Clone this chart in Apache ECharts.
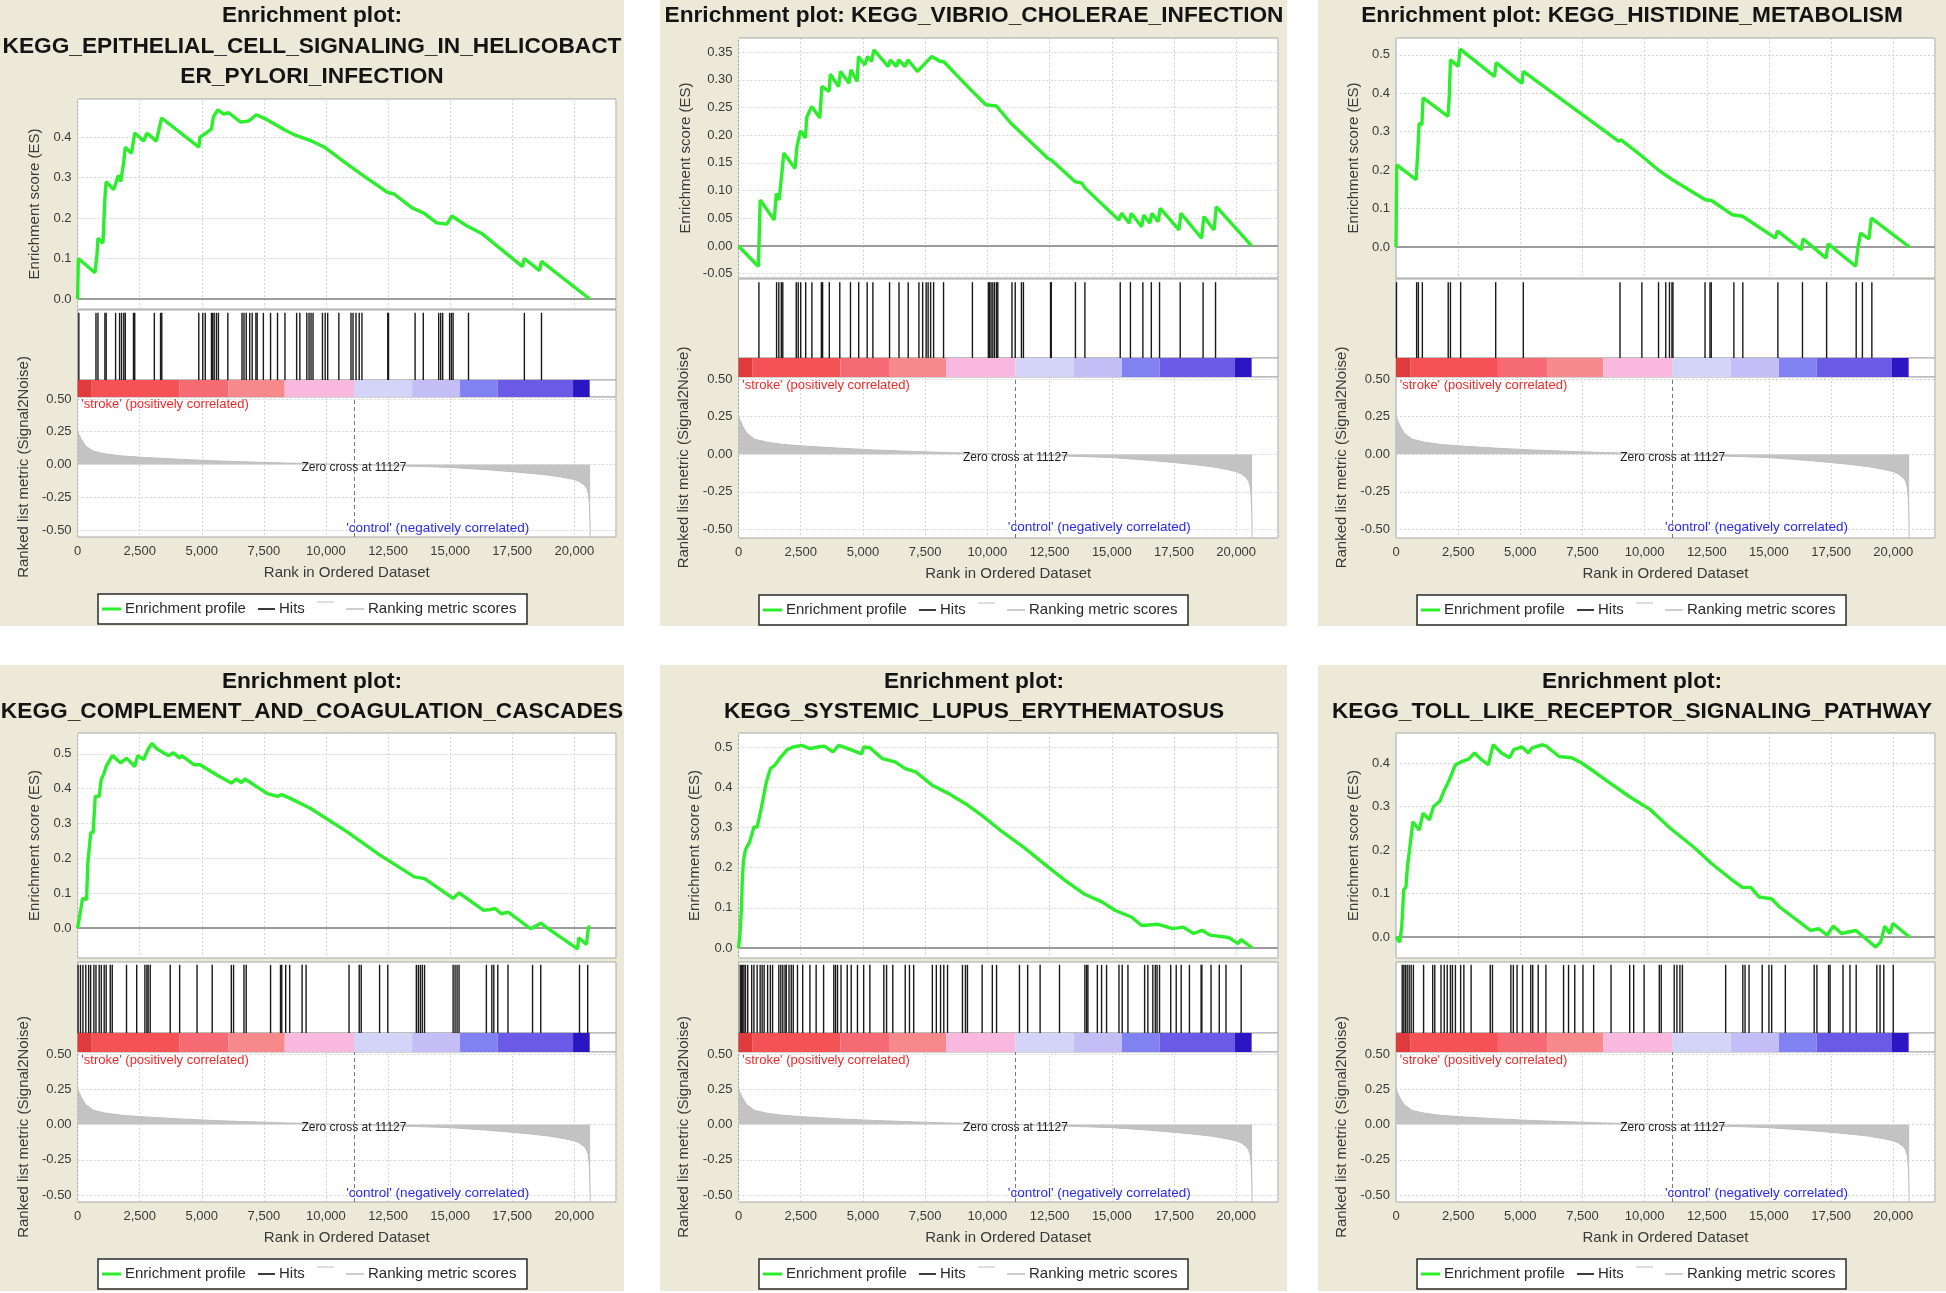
<!DOCTYPE html>
<html><head><meta charset="utf-8">
<script src="https://cdn.jsdelivr.net/npm/echarts@6/dist/echarts.min.js"></script>
<style>html,body{margin:0;padding:0;background:#fff}#c{width:1946px;height:1293px}</style>
</head><body><div id="c"></div>
<script>
// ---------------- DATA ----------------
const titles1 = ["Enrichment plot:", "KEGG_EPITHELIAL_CELL_SIGNALING_IN_HELICOBACT", "ER_PYLORI_INFECTION"];
const titles2 = ["Enrichment plot: KEGG_VIBRIO_CHOLERAE_INFECTION"];
const titles3 = ["Enrichment plot: KEGG_HISTIDINE_METABOLISM"];
const titles4 = ["Enrichment plot:", "KEGG_COMPLEMENT_AND_COAGULATION_CASCADES"];
const titles5 = ["Enrichment plot:", "KEGG_SYSTEMIC_LUPUS_ERYTHEMATOSUS"];
const titles6 = ["Enrichment plot:", "KEGG_TOLL_LIKE_RECEPTOR_SIGNALING_PATHWAY"];

const xTicks = [0, 2500, 5000, 7500, 10000, 12500, 15000, 17500, 20000];
const XMAX = 21680;
const ZERO_CROSS = 11127;
const metricTicks = [0.5, 0.25, 0, -0.25, -0.5];

const esTicks1 = [0, 0.1, 0.2, 0.3, 0.4];
const esTicks2 = [-0.05, 0, 0.05, 0.10, 0.15, 0.20, 0.25, 0.30, 0.35];
const esTicks3 = [0, 0.1, 0.2, 0.3, 0.4, 0.5];
const esTicks4 = [0, 0.1, 0.2, 0.3, 0.4, 0.5];
const esTicks5 = [0, 0.1, 0.2, 0.3, 0.4, 0.5];
const esTicks6 = [0, 0.1, 0.2, 0.3, 0.4];

const es1 = [[0,0],[30,0.1],[700,0.065],[780,0.11],[820,0.15],[1020,0.138],[1100,0.25],[1150,0.29],[1450,0.27],[1640,0.305],[1740,0.29],[1860,0.34],[1920,0.375],[2170,0.36],[2300,0.41],[2660,0.39],[2790,0.41],[3170,0.39],[3380,0.447],[4880,0.375],[4930,0.4],[5180,0.41],[5390,0.42],[5470,0.45],[5640,0.467],[5880,0.457],[6080,0.46],[6570,0.437],[6900,0.44],[7200,0.455],[7560,0.445],[8380,0.416],[8790,0.404],[9360,0.392],[9940,0.375],[10840,0.334],[11660,0.298],[12490,0.263],[12730,0.26],[13470,0.225],[13970,0.211],[14460,0.188],[14870,0.185],[15070,0.205],[15610,0.183],[16270,0.162],[17910,0.08],[17990,0.1],[18600,0.07],[18680,0.093],[20620,0]];
const es2 = [[0,0],[800,-0.037],[835,0.023],[870,0.083],[1435,0.047],[1520,0.095],[1630,0.083],[1735,0.128],[1820,0.168],[2270,0.14],[2350,0.18],[2490,0.208],[2690,0.195],[2740,0.232],[2940,0.252],[3270,0.231],[3350,0.288],[3640,0.279],[3690,0.31],[4020,0.288],[4100,0.315],[4440,0.294],[4520,0.318],[4770,0.297],[4820,0.342],[5070,0.327],[5190,0.342],[5350,0.333],[5440,0.354],[6020,0.324],[6100,0.336],[6350,0.324],[6440,0.336],[6690,0.324],[6810,0.336],[7190,0.315],[7440,0.327],[7770,0.342],[8110,0.333],[8240,0.333],[9270,0.285],[9940,0.255],[10360,0.253],[10940,0.222],[12440,0.158],[12580,0.155],[13530,0.116],[13780,0.114],[13940,0.104],[15280,0.047],[15400,0.059],[15700,0.041],[15780,0.059],[16200,0.035],[16280,0.056],[16530,0.041],[16610,0.059],[16860,0.044],[16950,0.068],[17700,0.029],[17780,0.059],[18610,0.014],[18700,0.053],[19110,0.029],[19200,0.071],[20620,0]];
const es3 = [[0,0],[30,0.214],[810,0.175],[880,0.253],[930,0.322],[1040,0.318],[1090,0.388],[2090,0.34],[2140,0.388],[2190,0.487],[2500,0.47],[2580,0.515],[3960,0.444],[4030,0.48],[5070,0.426],[5120,0.457],[8960,0.275],[9050,0.279],[9880,0.237],[10540,0.201],[11120,0.175],[12440,0.123],[12690,0.121],[13520,0.084],[13940,0.08],[15260,0.023],[15340,0.042],[16300,-0.007],[16370,0.021],[17300,-0.029],[17380,0.008],[18490,-0.05],[18580,-0.003],[18690,0.036],[19020,0.021],[19120,0.075],[20650,0]];
const es4 = [[0,0],[100,0.041],[200,0.085],[360,0.082],[410,0.186],[530,0.274],[625,0.274],[710,0.378],[870,0.378],[950,0.426],[1070,0.445],[1150,0.464],[1230,0.474],[1400,0.495],[1730,0.474],[1970,0.488],[2300,0.464],[2420,0.495],[2660,0.484],[2830,0.512],[2990,0.53],[3200,0.514],[3650,0.495],[3860,0.503],[4110,0.488],[4190,0.495],[4680,0.469],[4930,0.469],[5590,0.44],[6210,0.416],[6380,0.428],[6600,0.418],[6740,0.428],[7640,0.386],[8050,0.378],[8220,0.383],[8540,0.373],[9370,0.344],[10840,0.277],[12160,0.21],[13560,0.147],[13970,0.142],[15120,0.085],[15360,0.101],[16350,0.051],[16600,0.053],[16810,0.056],[17060,0.041],[17340,0.046],[18240,-0.002],[18650,0.014],[18890,0.001],[20130,-0.06],[20180,-0.028],[20490,-0.047],[20570,0.003],[20650,0.003]];
const es5 = [[0,0],[60,0.036],[120,0.102],[150,0.168],[200,0.218],[280,0.245],[450,0.264],[620,0.301],[750,0.301],[870,0.334],[1030,0.384],[1120,0.413],[1280,0.446],[1450,0.454],[1700,0.475],[1950,0.493],[2200,0.5],[2540,0.504],[2870,0.496],[3200,0.5],[3450,0.502],[3790,0.488],[4030,0.504],[4530,0.493],[4950,0.483],[5030,0.5],[5280,0.498],[5780,0.471],[6290,0.463],[6700,0.446],[7120,0.438],[7780,0.405],[8450,0.384],[9120,0.359],[9780,0.33],[10620,0.288],[11450,0.251],[12450,0.201],[13120,0.168],[13870,0.135],[14620,0.114],[15120,0.094],[15790,0.077],[16200,0.056],[16870,0.059],[17450,0.048],[17870,0.052],[18290,0.036],[18620,0.044],[18950,0.032],[19700,0.026],[20080,0.011],[20200,0.021],[20650,0]];
const es6 = [[0,0],[150,-0.012],[230,0.023],[310,0.108],[400,0.115],[460,0.162],[560,0.208],[680,0.265],[930,0.246],[1090,0.285],[1340,0.269],[1510,0.3],[1760,0.312],[1920,0.335],[2120,0.358],[2390,0.396],[2670,0.404],[2920,0.409],[3160,0.423],[3410,0.409],[3710,0.396],[3910,0.442],[4240,0.423],[4570,0.412],[4740,0.431],[5070,0.437],[5320,0.423],[5480,0.435],[5900,0.442],[6060,0.438],[6560,0.415],[7060,0.412],[7470,0.4],[8050,0.377],[8710,0.35],[9380,0.323],[10200,0.294],[11030,0.25],[12030,0.204],[12690,0.169],[13520,0.131],[13930,0.114],[14270,0.114],[14600,0.092],[15100,0.088],[15430,0.069],[16670,0.015],[17010,0.019],[17340,0.004],[17590,0.025],[17920,0.008],[18250,0.012],[18500,0.015],[19290,-0.023],[19490,-0.012],[19660,0.025],[19860,0.008],[19990,0.031],[20650,0]];

const hits1 = [50,740,820,1100,1150,1530,1690,1770,1860,1920,2250,2300,3090,3340,3390,4880,5040,5140,5390,5440,5500,5590,5670,6050,6620,6700,6790,6930,7030,7180,7230,7480,7770,8050,8350,8820,8950,9230,9320,9400,9480,9860,9970,10070,10520,11010,11090,11210,11340,11450,12490,12520,13590,13920,14540,14620,14700,14980,15050,15120,15740,17990,18680];
const hits2 = [820,1530,1620,1720,1780,2320,2400,2500,2700,2950,3330,3380,3650,4070,4500,4830,5170,5400,6070,6450,6820,7250,7400,7540,7620,7720,7840,8240,9400,10040,10090,10150,10220,10290,10370,10420,10990,11120,11370,11450,12540,12570,13540,13920,15340,15750,16250,16590,16920,17750,18670,19170];
const hits3 = [20,830,900,1060,2100,2190,2600,4010,5120,9010,9890,10560,10850,11000,11100,11140,12430,12630,12680,13590,13950,15360,16350,17320,18510,18760,19140];
const hits4 = [20,115,215,330,445,525,655,740,870,955,1070,1150,1315,1395,1970,2380,2710,2790,2840,2925,3730,4110,4810,5420,6190,6280,6700,6790,7770,8170,8220,8380,8540,9040,9200,10930,11340,11420,12160,12490,13640,13720,13800,13880,13970,15120,15200,15280,15360,16460,16680,16760,16920,17330,18320,18650,20210,20540];
const hits5 = [70,120,170,220,280,370,530,620,750,870,950,1030,1170,1280,1370,1620,1700,1780,1870,1920,2030,2120,2200,2370,2580,2870,3120,3420,3830,3900,3980,4120,4370,4530,4780,5030,5280,5840,5950,6200,6700,6870,7040,7790,7950,8120,8250,8400,9000,9120,9200,9790,10200,10370,11290,11620,12120,12900,13920,13990,14040,14420,14590,14790,15290,15420,15650,16320,16450,16650,16750,16820,16920,17370,17590,17790,18120,18590,18620,18990,19320,19590,20200];
const hits6 = [250,315,380,450,530,610,700,1110,1475,1560,1810,1940,2060,2190,2270,2390,2600,2730,3020,3790,3880,4620,4720,4870,5090,5420,5500,5720,6030,6740,6940,7190,7520,7950,8650,9400,9560,9980,10590,10670,11190,11300,11420,11520,13260,13950,14040,14200,14730,15000,15110,15660,16820,16930,17400,17460,17980,18260,18510,19340,19470,19620,20000];

const metricRanks  = [0, 40, 160, 330, 650, 1150, 1800, 2600, 4100, 5400, 7000, 8400, 9800, 11127, 12500, 14000, 15000, 16500, 17500, 18300, 19000, 19600, 20000, 20200, 20400, 20500, 20570, 20610, 20630, 20640];
const metricValues = [0.26, 0.235, 0.19, 0.14, 0.10, 0.08, 0.065, 0.055, 0.04, 0.029, 0.019, 0.011, 0.005, 0, -0.008, -0.016, -0.022, -0.04, -0.055, -0.068, -0.082, -0.1, -0.115, -0.13, -0.155, -0.18, -0.22, -0.3, -0.42, -0.55];

const colorBarEdges  = [0, 570, 4100, 6080, 8340, 11130, 13470, 15400, 16920, 19950, 20620];
const colorBarColors = ['#e03a3c', '#f45254', '#f66a74', '#f7888c', '#f9b9df', '#d3d5f8', '#c3bff6', '#8082f2', '#6a5ae6', '#2c16c4'];

const labelStroke  = "'stroke' (positively correlated)";
const labelControl = "'control' (negatively correlated)";
const labelZero    = "Zero cross at 11127";
const legendNames  = ["Enrichment profile", "Hits", "Ranking metric scores"];

// ---------------- LAYOUT ----------------
const LAYOUTS = [
  {bg:[0,0,624,626], cx:312, ty:[16,47,77], x:77.6, w:538.4, es:[99,309,-0.0247,0.494], hits:[310,380], cbar:[380,397], met:[397,537,-0.553,0.515], lg:[98,594], esGap:35, metGap:46},
  {bg:[660,0,627,626], cx:974, ty:[16], x:738.5, w:539.5, es:[38,278,-0.0578,0.3755], hits:[279,358], cbar:[358,377], met:[377,538,-0.556,0.513], lg:[759,595], esGap:45, metGap:47},
  {bg:[1318,0,628,626], cx:1632, ty:[16], x:1396, w:539, es:[38,278,-0.0807,0.544], hits:[279,358], cbar:[358,377], met:[377,538,-0.556,0.513], lg:[1417,595], esGap:35, metGap:47},
  {bg:[0,665,624,626], cx:312, ty:[682,712], x:77.6, w:538.4, es:[733,958,-0.086,0.560], hits:[962,1033], cbar:[1033,1052], met:[1052,1202,-0.549,0.514], lg:[98,1259], esGap:35, metGap:46},
  {bg:[660,665,627,626], cx:974, ty:[682,712], x:738.5, w:539.5, es:[733,958,-0.0249,0.5348], hits:[962,1033], cbar:[1033,1052], met:[1052,1202,-0.549,0.514], lg:[759,1259], esGap:36, metGap:47},
  {bg:[1318,665,628,626], cx:1632, ty:[682,712], x:1396, w:539, es:[733,958,-0.0483,0.469], hits:[962,1033], cbar:[1033,1052], met:[1052,1202,-0.549,0.514], lg:[1417,1259], esGap:35, metGap:47}
];

const PANELS = [
  {title: titles1, es: es1, hits: hits1, ticks: esTicks1, dec: 1},
  {title: titles2, es: es2, hits: hits2, ticks: esTicks2, dec: 2},
  {title: titles3, es: es3, hits: hits3, ticks: esTicks3, dec: 1},
  {title: titles4, es: es4, hits: hits4, ticks: esTicks4, dec: 1},
  {title: titles5, es: es5, hits: hits5, ticks: esTicks5, dec: 1},
  {title: titles6, es: es6, hits: hits6, ticks: esTicks6, dec: 1}
];

const FONT = '"Liberation Sans", Arial, Helvetica, sans-serif';
const BEIGE = '#ece9d8';
const GREEN = '#2cee2c';
const BORDER = '#a6a6a6';
const GRIDC = '#d4d4d4';

function fmtThousands(v) { return String(v).replace(/\B(?=(\d{3})+(?!\d))/g, ','); }

const option = {
  backgroundColor: '#ffffff',
  animation: false,
  grid: [], xAxis: [], yAxis: [], series: [], graphic: []
};

function hiddenX(gi, split) {
  return {gridIndex: gi, type: 'value', min: 0, max: XMAX, interval: 2500,
    axisLine: {show: false}, axisTick: {show: false}, axisLabel: {show: false},
    splitLine: {show: split, lineStyle: {color: GRIDC, type: [2, 2], width: 1}}};
}
function hiddenY(gi) {
  return {gridIndex: gi, type: 'value', min: 0, max: 1, show: false, splitLine: {show: false}};
}

PANELS.forEach((p, k) => {
  const L = LAYOUTS[k];
  const g0 = option.grid.length;
  const box = (t, b) => ({left: L.x, top: t, width: L.w, height: b - t, show: true,
    backgroundColor: '#ffffff', borderColor: BORDER, borderWidth: 1});

  option.graphic.push({type: 'rect', z: -10, shape: {x: L.bg[0], y: L.bg[1], width: L.bg[2], height: L.bg[3]}, style: {fill: BEIGE}});
  p.title.forEach((t, i) => option.graphic.push({type: 'text', z: 10, x: L.cx, y: L.ty[i],
    style: {text: t, font: 'bold 22.7px ' + FONT, fill: '#141414', align: 'center', verticalAlign: 'middle'}}));

  option.grid.push(box(L.es[0], L.es[1]));
  option.grid.push(box(L.hits[0], L.hits[1]));
  option.grid.push(box(L.cbar[0], L.cbar[1]));
  option.grid.push(box(L.met[0], L.met[1]));

  option.xAxis.push(hiddenX(g0, true));
  option.yAxis.push({gridIndex: g0, type: 'value', min: L.es[2], max: L.es[3],
    name: 'Enrichment score (ES)', nameLocation: 'middle', nameRotate: 90, nameGap: L.esGap,
    nameTextStyle: {fontSize: 15, color: '#3a3a3a', fontFamily: FONT},
    axisLine: {show: false}, axisTick: {show: false}, splitLine: {show: false},
    axisLabel: {customValues: p.ticks, formatter: v => v.toFixed(p.dec), fontSize: 13, color: '#3a3a3a', fontFamily: FONT, margin: 6}});
  option.xAxis.push(hiddenX(g0 + 1, false));
  option.yAxis.push(hiddenY(g0 + 1));
  option.xAxis.push(hiddenX(g0 + 2, false));
  option.yAxis.push(hiddenY(g0 + 2));
  option.xAxis.push({gridIndex: g0 + 3, type: 'value', min: 0, max: XMAX, interval: 2500,
    name: 'Rank in Ordered Dataset', nameLocation: 'middle', nameGap: 28,
    nameTextStyle: {fontSize: 15, color: '#3a3a3a', fontFamily: FONT},
    axisLine: {show: false}, axisTick: {show: false},
    axisLabel: {formatter: v => (v > xTicks[xTicks.length - 1] ? '' : fmtThousands(v)), fontSize: 13, color: '#3a3a3a', fontFamily: FONT, margin: 8, showMaxLabel: false},
    splitLine: {show: true, lineStyle: {color: GRIDC, type: [2, 2], width: 1}}});
  option.yAxis.push({gridIndex: g0 + 3, type: 'value', min: L.met[2], max: L.met[3],
    name: 'Ranked list metric (Signal2Noise)', nameLocation: 'middle', nameRotate: 90, nameGap: L.metGap,
    nameTextStyle: {fontSize: 15, color: '#3a3a3a', fontFamily: FONT},
    axisLine: {show: false}, axisTick: {show: false}, splitLine: {show: false},
    axisLabel: {customValues: metricTicks, formatter: v => v.toFixed(2), fontSize: 13, color: '#3a3a3a', fontFamily: FONT, margin: 6}});

  option.series.push({type: 'line', xAxisIndex: g0, yAxisIndex: g0, data: p.es, symbol: 'none', silent: true, z: 5,
    lineStyle: {color: GREEN, width: 3.4},
    markLine: {silent: true, symbol: ['none', 'none'], label: {show: false}, animation: false,
      data: p.ticks.filter(v => Math.abs(v) > 1e-9).map(v => ({yAxis: v, lineStyle: {color: GRIDC, type: [2, 2], width: 1}}))
        .concat([{yAxis: 0, lineStyle: {color: '#9c9c9c', type: 'solid', width: 2}}])}});

  option.series.push({type: 'custom', xAxisIndex: g0 + 1, yAxisIndex: g0 + 1, silent: true,
    data: p.hits.map(r => [r, 0.96]), encode: {x: 0, y: 1},
    renderItem: (params, api) => {
      const a = api.coord([api.value(0), 0]);
      const b = api.coord([api.value(0), api.value(1)]);
      return {type: 'line', shape: {x1: a[0], y1: a[1], x2: b[0], y2: b[1]}, style: {stroke: '#1a1a1a', lineWidth: 1.4}};
    }});

  option.series.push({type: 'custom', xAxisIndex: g0 + 2, yAxisIndex: g0 + 2, silent: true,
    data: colorBarColors.map((c, i) => [colorBarEdges[i], colorBarEdges[i + 1], i]), encode: {x: [0, 1]},
    renderItem: (params, api) => {
      const a = api.coord([api.value(0), 1]);
      const b = api.coord([api.value(1), 0]);
      return {type: 'rect', shape: {x: a[0], y: a[1], width: b[0] - a[0], height: b[1] - a[1]}, style: {fill: colorBarColors[api.value(2)]}};
    }});

  const labelCfg = (txt, color, align, size) => ({show: true, position: 'inside', align: align, verticalAlign: 'middle',
    formatter: txt, color: color, fontSize: size, fontFamily: FONT});
  option.series.push({type: 'line', xAxisIndex: g0 + 3, yAxisIndex: g0 + 3, silent: true, symbol: 'none',
    data: metricRanks.map((r, i) => [r, metricValues[i]]),
    lineStyle: {color: '#bdbdbd', width: 1}, areaStyle: {color: '#c3c3c3', opacity: 1, origin: 0},
    markLine: {silent: true, symbol: ['none', 'none'], label: {show: false}, animation: false,
      data: metricTicks.map(v => ({yAxis: v, lineStyle: {color: GRIDC, type: [2, 2], width: 1}}))
        .concat([{xAxis: ZERO_CROSS, lineStyle: {color: '#7a7a7a', type: [4, 3], width: 1}}])},
    markPoint: {silent: true, symbol: 'circle', symbolSize: 1, itemStyle: {color: 'rgba(0,0,0,0)'}, animation: false,
      data: [
        {coord: [150, 0.455], label: labelCfg(labelStroke, '#f02828', 'left', 13)},
        {coord: [ZERO_CROSS, -0.022], label: labelCfg(labelZero, '#1e1e1e', 'center', 12)},
        {coord: [14500, -0.487], label: labelCfg(labelControl, '#2a2af0', 'center', 13.5)}
      ]}});

  const lx = L.lg[0], ly = L.lg[1];
  option.graphic.push({type: 'group', x: lx, y: ly, z: 10, children: [
    {type: 'rect', shape: {x: 0, y: 0, width: 429, height: 30}, style: {fill: '#ffffff', stroke: '#2a2a2a', lineWidth: 1.5}},
    {type: 'line', shape: {x1: 4, y1: 15, x2: 23, y2: 15}, style: {stroke: GREEN, lineWidth: 3}},
    {type: 'text', x: 27, y: 15, style: {text: legendNames[0], font: '15px ' + FONT, fill: '#2a2a2a', verticalAlign: 'middle'}},
    {type: 'line', shape: {x1: 160, y1: 15, x2: 177, y2: 15}, style: {stroke: '#3a3a3a', lineWidth: 2}},
    {type: 'text', x: 181, y: 15, style: {text: legendNames[1], font: '15px ' + FONT, fill: '#2a2a2a', verticalAlign: 'middle'}},
    {type: 'line', shape: {x1: 219, y1: 8, x2: 236, y2: 8}, style: {stroke: '#dddddd', lineWidth: 2}},
    {type: 'line', shape: {x1: 248, y1: 15, x2: 266, y2: 15}, style: {stroke: '#cfcfcf', lineWidth: 2}},
    {type: 'text', x: 270, y: 15, style: {text: legendNames[2], font: '15px ' + FONT, fill: '#2a2a2a', verticalAlign: 'middle'}}
  ]});
});

const chart = echarts.init(document.getElementById('c'), null, {renderer: 'canvas', width: 1946, height: 1293});
chart.setOption(option);
</script></body></html>
